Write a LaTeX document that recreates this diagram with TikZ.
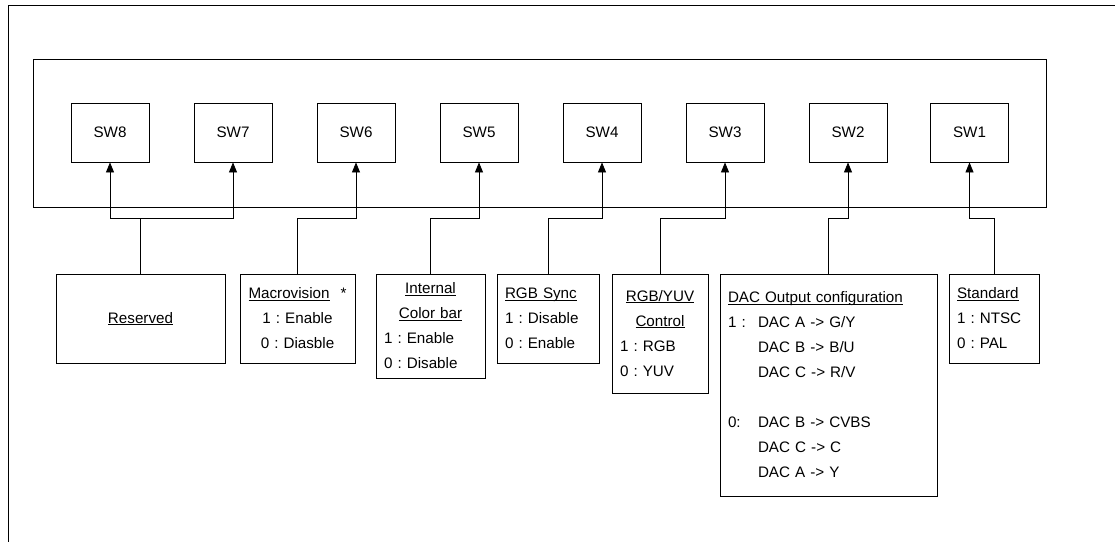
\documentclass[tikz,border=0pt]{standalone}
\usepackage{fontspec}
\setmainfont{Liberation Sans}
\usetikzlibrary{arrows.meta}
\frenchspacing
\newcommand{\ulin}[1]{\sbox0{#1}\rlap{\rule[-1.8pt]{\wd0}{0.8pt}}\usebox0}
\newcommand{\ctline}[1]{\makebox[\linewidth]{#1}}

\begin{document}
\begin{tikzpicture}[x = 1pt, y = -1pt, line width = 0.8pt, font = \fontsize{15.2}{25}\selectfont]
\tikzstyle{swbox} = [draw, minimum width = 78pt, minimum height = 59pt, inner sep = 0pt]
\tikzstyle{infobox} = [draw, inner xsep = 8pt, inner ysep = 0pt, align = left]
\tikzstyle{myarrow} = [-{Triangle[length = 10pt, width = 8pt]}]
\useasboundingbox (0,0) rectangle (1115,542);
\draw (1115,5) -- (8.5,5) -- (8.5,542);
\node [draw, minimum width = 1013pt, minimum height = 148pt] (board) at (539.5,133) {};

\node [swbox] (sw8) at (110,132.5) {SW8};
\node [swbox] (sw7) at (233,132.5) {SW7};
\node [swbox] (sw6) at (356,132.5) {SW6};
\node [swbox] (sw5) at (479,132.5) {SW5};
\node [swbox] (sw4) at (602,132.5) {SW4};
\node [swbox] (sw3) at (725,132.5) {SW3};
\node [swbox] (sw2) at (848,132.5) {SW2};
\node [swbox] (sw1) at (969.5,132.5) {SW1};

\node [infobox, align = center, text width = 153pt, minimum height = 89pt] (res) at (140.5,318.5) {\ulin{Reserved}};
\node [infobox, align = center, text width = 99pt, minimum height = 89pt] (macro) at (297.5,318.5) {\ulin{Macrovision}\hspace{11pt}*\\ 1 : Enable\hspace{8pt}\\ 0 : Diasble\hspace{8pt}};
\node [infobox, text width = 93pt, minimum height = 104pt] (colbar) at (430.5,326) {\ctline{\ulin{Internal}}\\ \ctline{\ulin{Color bar}}\\ 1 : Enable\\ 0 : Disable};
\node [infobox, text width = 86pt, minimum height = 89pt] (sync) at (548,318.5) {\ulin{RGB Sync}\\ 1 : Disable\\ 0 : Enable};
\node [infobox, text width = 80pt, minimum height = 119pt] (rgbyuv) at (660,333.5) {\ctline{\ulin{RGB/YUV}}\\ \ctline{\ulin{Control}}\\ 1 : RGB\\ 0 : YUV};
\node [infobox, text width = 201pt, minimum height = 222pt] (dac) at (828.5,385) {\ulin{DAC Output configuration}\\ \makebox[30pt][l]{1 :}DAC A -> G/Y\\ \hspace*{30pt}DAC B -> B/U\\ \hspace*{30pt}DAC C -> R/V\\[25pt] \makebox[30pt][l]{0:}DAC B -> CVBS\\ \hspace*{30pt}DAC C -> C\\ \hspace*{30pt}DAC A -> Y};
\node [infobox, text width = 74pt, minimum height = 89pt] (std) at (994,318.5) {\ulin{Standard}\\ 1 : NTSC\\ 0 : PAL};

\coordinate (bus) at (0,218);
\draw (res.north) -- (res |- bus);
\draw [myarrow] (res |- bus) -| (sw8.south);
\draw [myarrow] (res |- bus) -| (sw7.south);
\draw [myarrow] (macro.north) |- (sw6 |- bus) -- (sw6.south);
\draw [myarrow] (colbar.north) |- (sw5 |- bus) -- (sw5.south);
\draw [myarrow] (sync.north) |- (sw4 |- bus) -- (sw4.south);
\draw [myarrow] (rgbyuv.north) |- (sw3 |- bus) -- (sw3.south);
\draw [myarrow] (dac.north) |- (sw2 |- bus) -- (sw2.south);
\draw [myarrow] (std.north) |- (sw1 |- bus) -- (sw1.south);
\end{tikzpicture}
\end{document}
